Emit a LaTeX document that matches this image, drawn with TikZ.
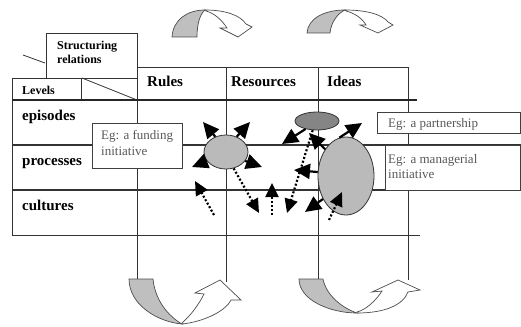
\documentclass[tikz,border=0pt]{standalone}
\usepackage{fontspec}
\setmainfont{Liberation Serif}
\usetikzlibrary{shapes.geometric,arrows.meta}
\begin{document}
\begin{tikzpicture}[x=1pt,y=-1pt,
  grid/.style={draw=black!80,line width=0.8pt},
  thick grid/.style={draw=black!85,line width=1.5pt},
  biglab/.style={font=\fontsize{15}{17}\selectfont\bfseries,inner sep=0pt,anchor=base west},
  smalllab/.style={font=\fontsize{12}{14}\selectfont\bfseries,inner sep=0pt,anchor=base west},
  eglab/.style={font=\fontsize{13}{15}\selectfont,text=black!65,inner sep=0pt,anchor=base west},
  egbox/.style={draw=black!75,line width=0.8pt,fill=white},
  blob/.style={ellipse,draw=black!80,line width=0.8pt,inner sep=0pt},
  solidarr/.style={line width=2.2pt,-{Triangle[length=16pt,width=15pt]}},
  dotarr/.style={line width=2.2pt,dash pattern=on 2pt off 2pt,-{Triangle[length=14pt,width=13pt]}},
  band/.style={draw=black!70,line width=0.7pt,fill=black!25},
  arrowwhite/.style={draw=black!70,line width=0.7pt,fill=white}
]
\useasboundingbox (0,0) rectangle (521,326);

% ---- grid ----
\draw[grid] (46,78) -- (46,33) -- (137,33);
\draw[grid] (23,55) -- (45,63);
\draw[grid] (12,78) -- (137,78);
\draw[grid] (81,78) -- (81,100);
\draw[grid] (82,78) -- (137,100);
\draw[grid] (137,67) -- (408,67);
\draw[grid] (12,78) -- (12,235);
\draw[grid] (137,33) -- (137,279);
\draw[grid] (226,67) -- (226,282);
\draw[grid] (318,67) -- (318,279);
\draw[grid] (408,67) -- (408,280);
\draw[grid,line width=1.2pt] (12,145) -- (521,145);
\draw[grid,line width=1.2pt] (12,190) -- (521,190);
\draw[grid] (12,235) -- (420,235);
\draw[thick grid] (12,100) -- (417,100);

% ---- example boxes ----
\draw[egbox] (92,123) rectangle (182,168);
\draw[egbox] (377,112) rectangle (520.5,133);
\draw[egbox] (385,145) rectangle (520.5,190);

% ---- labels ----
\node[smalllab] (struct1) at (57,50) {Structuring};
\node[smalllab] (struct2) at (57,64) {relations};
\node[smalllab] (levels) at (22,95) {Levels};
\node[biglab] (rules) at (147,87) {Rules};
\node[biglab] (resources) at (231,87) {Resources};
\node[biglab] (ideas) at (327,87) {Ideas};
\node[biglab] (episodes) at (22,120) {episodes};
\node[biglab] (processes) at (22,165) {processes};
\node[biglab] (cultures) at (22,210) {cultures};
\node[eglab] (fund1) at (101,139) {Eg: a funding};
\node[eglab] (fund2) at (101,155) {initiative};
\node[eglab] (part) at (388,127) {Eg: a partnership};
\node[eglab] (man1) at (388,163) {Eg: a managerial};
\node[eglab] (man2) at (388,178) {initiative};

% ---- ellipses ----
\node[blob,fill=black!27,minimum width=44pt,minimum height=34pt] (e1) at (226,152) {};
\node[blob,fill=black!48,minimum width=44pt,minimum height=18pt] (e2) at (317,121) {};
\node[blob,fill=black!27,minimum width=56pt,minimum height=78pt] (e3) at (346,176) {};

% ---- free ends ----
\coordinate (t1) at (203,122);
\coordinate (t2) at (250,122);
\coordinate (t3) at (192,167);
\coordinate (t4) at (262,167);
\coordinate (t5) at (259,213);
\coordinate (d1s) at (214,215);
\coordinate (d1e) at (195,181);
\coordinate (d2s) at (272,215);
\coordinate (d2e) at (272,183);
\coordinate (t6) at (282,144);
\coordinate (t7) at (287,213);
\coordinate (t8) at (309,133);
\coordinate (t9) at (362,123);
\coordinate (t10) at (294,170);
\coordinate (t11) at (305,212);
\coordinate (d3s) at (329,220);
\coordinate (d3e) at (342,192);

% ---- arrows ----
\draw[solidarr] (e1.125) -- (t1);
\draw[solidarr] (e1.55) -- (t2);
\draw[solidarr] (e1.205) -- (t3);
\draw[solidarr] (e1.-25) -- (t4);
\draw[dotarr] (e1.-65) -- (t5);
\draw[dotarr] (d1s) -- (d1e);
\draw[dotarr] (d2s) -- (d2e);
\draw[solidarr] (e2.215) -- (t6);
\draw[dotarr] (e2.-115) -- (t7);
\draw[solidarr] (e3.128) -- (t8);
\draw[solidarr] (e3.100) -- (t9);
\draw[solidarr] (e3.172) -- (t10);
\draw[solidarr] (e3.225) -- (t11);
\draw[dotarr] (d3s) -- (d3e);

% ---- top curved arrows ----
\draw[band] (172,37) .. controls (173,20) and (187,10) .. (205,10)
  .. controls (200,14) and (197,24) .. (197,37) -- cycle;
\draw[arrowwhite] (205,10) .. controls (225,10) and (240,15) .. (246,24)
  -- (252,27) -- (238,37) -- (220,28) -- (227,28)
  .. controls (222,20) and (214,13) .. (206,11) -- cycle;
\draw[band] (307,33) .. controls (308,18) and (325,10) .. (345,10)
  .. controls (338,13) and (331,22) .. (330,33) -- cycle;
\draw[arrowwhite] (345,10) .. controls (365,10) and (382,14) .. (388,22)
  -- (393,25) -- (378,33) -- (360,25) -- (366,25)
  .. controls (362,18) and (354,13) .. (346,11) -- cycle;

% ---- bottom curved arrows ----
\draw[band] (129,279) -- (153,279) .. controls (155,300) and (168,316) .. (182,324)
  .. controls (158,322) and (129,305) .. (129,279) -- cycle;
\draw[arrowwhite] (182,324) .. controls (202,322) and (225,312) .. (231,300)
  -- (241,300) -- (220,280) -- (195,293) -- (204,294)
  .. controls (198,306) and (190,316) .. (182,323) -- cycle;
\draw[band] (299,279) -- (323,279) .. controls (326,295) and (342,308) .. (357,313)
  .. controls (330,313) and (299,300) .. (299,279) -- cycle;
\draw[arrowwhite] (357,313) .. controls (385,313) and (403,305) .. (408,292)
  -- (420,290) -- (398,280) -- (372,292) -- (382,291)
  .. controls (375,302) and (365,310) .. (357,312) -- cycle;
\end{tikzpicture}
\end{document}
